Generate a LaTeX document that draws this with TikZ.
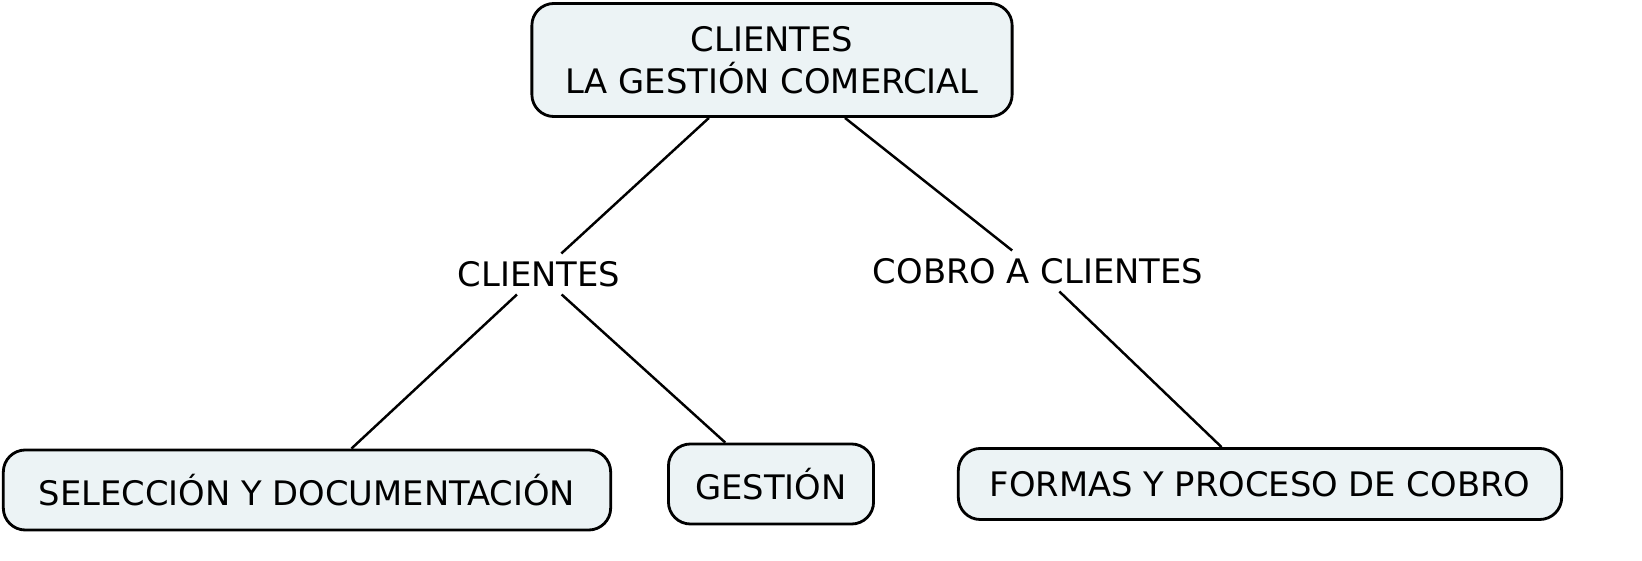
\documentclass[tikz,border=0pt]{standalone}
\usepackage{fontspec}
\setmainfont{DejaVu Sans}
\definecolor{concept}{RGB}{236,243,245}
\tikzset{concept/.style={draw, line width=0.8pt, rounded corners=0.22cm, fill=concept, align=center, font=\fontsize{9.6}{12}\selectfont}}
\tikzset{link/.style={inner sep=2pt, font=\fontsize{9.6}{12}\selectfont}}
\tikzset{conn/.style={line width=0.7pt}}
\begin{document}
\begin{tikzpicture}[x=0.01cm,y=-0.01cm]
  \useasboundingbox (0,0) rectangle (1642,561);
  \node[concept, minimum width=4.8cm, minimum height=1.13cm] (gestion) at (772,60) {CLIENTES\\LA GESTIÓN COMERCIAL};
  \node[concept, minimum width=6.07cm, minimum height=0.8cm] (seleccion) at (307,490) {SELECCIÓN Y DOCUMENTACIÓN};
  \node[concept, minimum width=2.05cm, minimum height=0.8cm] (gest) at (771,484) {GESTIÓN};
  \node[concept, minimum width=6.03cm, minimum height=0.71cm] (formas) at (1260,484) {FORMAS Y PROCESO DE COBRO};

  \node[link] (clientes) at (539,274) {CLIENTES};
  \node[link] (cobro) at (1038,271) {COBRO A CLIENTES};

  \draw[conn] (gestion) -- (clientes);
  \draw[conn] (gestion) -- (cobro);
  \draw[conn] (clientes) -- (seleccion);
  \draw[conn] (clientes) -- (gest);
  \draw[conn] (cobro) -- (formas);
\end{tikzpicture}
\end{document}
